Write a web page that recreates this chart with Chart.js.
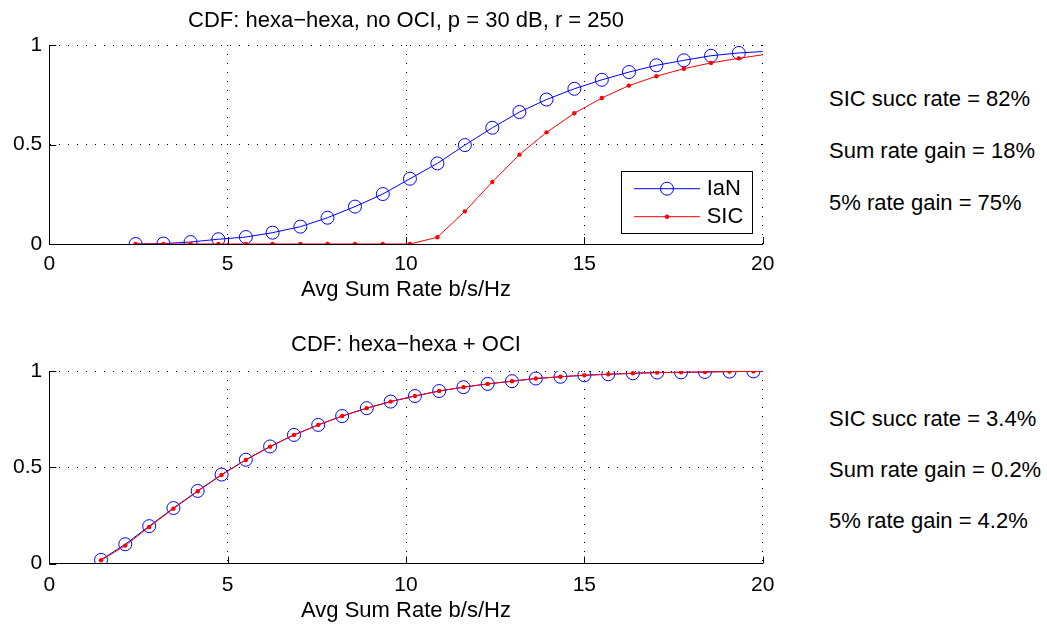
<!DOCTYPE html>
<html>
<head>
<meta charset="utf-8">
<script src="https://cdn.jsdelivr.net/npm/chart.js@4"></script>
<style>
  body { margin: 0; background: #fff; width: 1047px; height: 627px; overflow: hidden; position: relative;
         font-family: "Liberation Sans", Arial, Helvetica, sans-serif; }
  .panel { position: absolute; left: 0; width: 800px; }
  .note { position: absolute; left: 829px; font-size: 22px; line-height: 22px; color: #000; white-space: nowrap; }
</style>
</head>
<body>
<div class="panel" style="top:0;height:310px"><canvas id="topChart"></canvas></div>
<div class="panel" style="top:320px;height:307px"><canvas id="bottomChart"></canvas></div>

<script>
const FONT = '"Liberation Sans", Arial, Helvetica, sans-serif';

//! top panel: hexa-hexa, no OCI
const topRate = [2.42, 3.20, 3.96, 4.74, 5.51, 6.26, 7.04, 7.80, 8.57, 9.35, 10.11, 10.88,
                 11.65, 12.42, 13.18, 13.94, 14.72, 15.49, 16.25, 17.02, 17.79, 18.55, 19.33, 20];
const topIaN  = [0, 0.002, 0.010, 0.024, 0.035, 0.057, 0.087, 0.132, 0.188, 0.251, 0.328, 0.405,
                 0.497, 0.584, 0.663, 0.726, 0.780, 0.825, 0.864, 0.898, 0.923, 0.946, 0.960, 0.967];
const topSIC  = [0, 0, 0, 0, 0, 0, 0, 0, 0, 0, 0, 0.034,
                 0.164, 0.312, 0.449, 0.561, 0.657, 0.734, 0.796, 0.843, 0.881, 0.910, 0.933, 0.951];

//! bottom panel: hexa-hexa + OCI
const botRate = [1.45, 2.13, 2.80, 3.48, 4.16, 4.83, 5.51, 6.19, 6.86, 7.54, 8.21, 8.90, 9.57, 10.25, 10.93,
                 11.61, 12.29, 12.97, 13.64, 14.33, 15.00, 15.67, 16.36, 17.04, 17.71, 18.38, 19.07, 19.74, 20];
const botIaN  = [0.019, 0.100, 0.194, 0.288, 0.377, 0.462, 0.539, 0.608, 0.668, 0.720, 0.766, 0.807, 0.841, 0.870, 0.896,
                 0.916, 0.933, 0.947, 0.961, 0.970, 0.978, 0.983, 0.988, 0.992, 0.993, 0.995, 0.997, 0.998, 0.999];
const botSIC  = [0.017, 0.093, 0.190, 0.285, 0.375, 0.460, 0.538, 0.607, 0.668, 0.720, 0.766, 0.807, 0.841, 0.870, 0.896,
                 0.916, 0.933, 0.947, 0.961, 0.970, 0.978, 0.983, 0.988, 0.992, 0.993, 0.995, 0.997, 0.998, 0.999];

const seriesNames = ['IaN', 'SIC'];
const topNotes = ['SIC succ rate = 82%', 'Sum rate gain = 18%', '5% rate gain = 75%'];
const botNotes = ['SIC succ rate = 3.4%', 'Sum rate gain = 0.2%', '5% rate gain = 4.2%'];


function toPoints(xs, ys) {
  return xs.map((x, i) => ({ x: x, y: ys[i] }));
}

// last sample (x = 20) only continues the line, no marker
function markerSizes(xs, r) {
  return xs.map((x, i) => i === xs.length - 1 ? 0 : r);
}


//! title centred over the plot box (matlab style), not over the canvas
const centreTitle = {
  id: 'centreTitle',
  afterLayout(chart) {
    const t = chart.titleBlock;
    if (!t) return;
    t.left = chart.chartArea.left;
    t.right = chart.chartArea.right;
    t.width = t.right - t.left;
  }
};

//! inward tick marks on left / bottom axis
const innerTicks = {
  id: 'innerTicks',
  beforeDatasetsDraw(chart) {
    const { ctx, chartArea: a, scales: { x, y } } = chart;
    ctx.save();
    ctx.strokeStyle = '#000';
    ctx.lineWidth = 1;
    ctx.beginPath();
    x.ticks.forEach(t => {
      const px = Math.round(x.getPixelForValue(t.value)) + 0.5;
      ctx.moveTo(px, a.bottom);
      ctx.lineTo(px, a.bottom - 7);
    });
    y.ticks.forEach(t => {
      const py = Math.round(y.getPixelForValue(t.value)) + 0.5;
      ctx.moveTo(a.left, py);
      ctx.lineTo(a.left + 7, py);
    });
    ctx.stroke();
    ctx.restore();
  }
};

//! matlab style legend box (line + marker sample)
const matlabLegend = {
  id: 'matlabLegend',
  afterDraw(chart, args, opts) {
    if (!opts.show) return;
    const { ctx, chartArea } = chart;
    const w = 131, h = 62;
    const x0 = chartArea.right - 11 - w;
    const y0 = chartArea.bottom - 11.3 - h;
    ctx.save();
    ctx.fillStyle = '#fff';
    ctx.fillRect(x0, y0, w, h);
    ctx.strokeStyle = '#000';
    ctx.lineWidth = 1;
    ctx.strokeRect(Math.round(x0) + 0.5, Math.round(y0) + 0.5, w, h);
    chart.data.datasets.forEach((ds, i) => {
      const yy = y0 + 18 + i * 28;
      ctx.strokeStyle = ds.borderColor;
      ctx.lineWidth = ds.borderWidth;
      ctx.beginPath();
      ctx.moveTo(x0 + 13.3, yy);
      ctx.lineTo(x0 + 79.3, yy);
      ctx.stroke();
      ctx.beginPath();
      ctx.arc(x0 + 46.3, yy, ds.legendRadius, 0, Math.PI * 2);
      if (ds.legendFill) {
        ctx.fillStyle = ds.pointBackgroundColor;
        ctx.fill();
      } else {
        ctx.stroke();
      }
      ctx.fillStyle = '#000';
      ctx.font = '22px ' + FONT;
      ctx.textBaseline = 'middle';
      ctx.textAlign = 'left';
      ctx.fillText(ds.label, x0 + 86, yy);
    });
    ctx.restore();
  }
};


function makeChart(id, title, rate, ian, sic, g) {
  return new Chart(id, {
    type: 'line',
    data: {
      datasets: [{
        label: seriesNames[0],
        data: toPoints(rate, ian),
        borderColor: '#0000ff',
        borderWidth: 1,
        pointRadius: markerSizes(rate, 6.5),
        pointBorderColor: '#0000ff',
        pointBackgroundColor: 'rgba(0,0,0,0)',
        pointBorderWidth: 1,
        legendRadius: 6.5,
        legendFill: false,
        tension: 0,
        order: 1
      }, {
        label: seriesNames[1],
        data: toPoints(rate, sic),
        borderColor: '#ff0000',
        borderWidth: 1,
        pointRadius: markerSizes(rate, 2.2),
        pointBorderColor: '#ff0000',
        pointBackgroundColor: '#ff0000',
        pointBorderWidth: 0,
        legendRadius: 2.2,
        legendFill: true,
        tension: 0,
        order: 0
      }]
    },
    options: {
      responsive: true,
      maintainAspectRatio: false,
      animation: false,
      events: [],
      layout: { padding: { left: 0, right: 37.3, top: 0, bottom: 0 } },
      plugins: {
        legend: { display: false },
        tooltip: { enabled: false },
        title: {
          display: true,
          text: title,
          color: '#000',
          font: { family: FONT, size: 22, weight: 'normal' },
          padding: { top: g.titleTop, bottom: g.titleBottom }
        },
        matlabLegend: { show: g.legend }
      },
      scales: {
        x: {
          type: 'linear',
          min: 0,
          max: 20,
          ticks: { stepSize: 5, color: '#000', padding: g.tickPad, maxRotation: 0,
                   font: { family: FONT, size: 21 } },
          grid: { color: '#000', lineWidth: 1, drawTicks: false },
          border: { color: '#000', width: 1, dash: [1, 8] },
          title: {
            display: true,
            text: 'Avg Sum Rate b/s/Hz',
            color: '#000',
            font: { family: FONT, size: 22 },
            padding: { top: 0, bottom: g.xTitleBottom }
          },
          afterFit: s => { s.height = g.xHeight; }
        },
        y: {
          min: 0,
          max: 1,
          ticks: { stepSize: 0.5, color: '#000', padding: 7,
                   font: { family: FONT, size: 21 },
                   callback: v => String(v) },
          grid: { color: '#000', lineWidth: 1, drawTicks: false },
          border: { color: '#000', width: 1, dash: [1, 8] },
          afterFit: s => { s.width = 49.3; }
        }
      }
    },
    plugins: [centreTitle, innerTicks, matlabLegend]
  });
}

makeChart('topChart', 'CDF: hexa\u2212hexa, no OCI, p = 30 dB, r = 250', topRate, topIaN, topSIC,
  { titleTop: 7.8, titleBottom: 10.8, tickPad: 7.4, xTitleBottom: 6.8, xHeight: 66, legend: true });

makeChart('bottomChart', 'CDF: hexa\u2212hexa + OCI', botRate, botIaN, botSIC,
  { titleTop: 11.8, titleBottom: 12.8, tickPad: 8.9, xTitleBottom: 3.3, xHeight: 63.5, legend: false });


//! side notes
function addNotes(notes, tops) {
  notes.forEach((txt, i) => {
    const d = document.createElement('div');
    d.className = 'note';
    d.style.top = tops[i] + 'px';
    d.textContent = txt;
    document.body.appendChild(d);
  });
}
addNotes(topNotes, [88.3, 140.3, 192.3]);
addNotes(botNotes, [408.3, 459.3, 510.3]);
</script>
</body>
</html>
